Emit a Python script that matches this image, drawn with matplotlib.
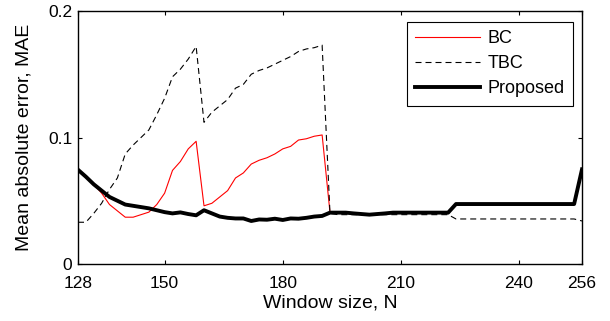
import matplotlib
matplotlib.use("Agg")
import matplotlib.pyplot as plt
import numpy as np

plt.rcParams['font.family'] = ['Liberation Sans', 'DejaVu Sans']

N = list(range(128, 258, 2))

proposed = [0.0745, 0.069, 0.063, 0.058, 0.053, 0.050, 0.047, 0.046, 0.045, 0.044,
            0.0425, 0.041, 0.040, 0.0408, 0.0395, 0.0385, 0.0425, 0.040, 0.0375, 0.0365,
            0.036, 0.036, 0.034, 0.0352, 0.035, 0.0358, 0.0348, 0.036, 0.0358, 0.0365,
            0.0375, 0.038, 0.0406, 0.0406, 0.0406, 0.040, 0.0395, 0.039, 0.0395, 0.040,
            0.0406, 0.0406, 0.0406, 0.0406, 0.0406, 0.0406, 0.0406, 0.0406,
            0.0474, 0.0474, 0.0474, 0.0474, 0.0474, 0.0474, 0.0474, 0.0474,
            0.0474, 0.0474, 0.0474, 0.0474, 0.0474, 0.0474, 0.0474, 0.0474, 0.0748]

tbc = [0.033, 0.033, 0.040, 0.048, 0.059, 0.068, 0.087, 0.094, 0.100, 0.106,
       0.118, 0.131, 0.148, 0.154, 0.162, 0.172, 0.112, 0.120, 0.125, 0.130,
       0.139, 0.142, 0.150, 0.153, 0.155, 0.158, 0.161, 0.164, 0.168, 0.170,
       0.171, 0.173, 0.040, 0.039, 0.039, 0.039, 0.039, 0.039, 0.039, 0.039,
       0.039, 0.039, 0.039, 0.039, 0.039, 0.039, 0.039, 0.039,
       0.0356, 0.0356, 0.0356, 0.0356, 0.0356, 0.0356, 0.0356, 0.0356,
       0.0356, 0.0356, 0.0356, 0.0356, 0.0356, 0.0356, 0.0356, 0.0356, 0.034]

bc = [0.0745, 0.069, 0.063, 0.056, 0.047, 0.042, 0.037, 0.037, 0.039, 0.041,
      0.047, 0.056, 0.074, 0.081, 0.091, 0.097, 0.046, 0.048, 0.053, 0.058,
      0.068, 0.072, 0.079, 0.082, 0.084, 0.087, 0.091, 0.093, 0.098, 0.099,
      0.101, 0.102] + proposed[32:]

xticks = [128, 150, 180, 210, 240, 256]
yticks = [0, 0.1, 0.2]
ytick_labels = ['0', '0.1', '0.2']

fig = plt.figure(figsize=(6.1, 3.21), dpi=100)
ax = fig.add_axes([78/610, (321-264)/321, (582-78)/610, (264-11)/321])

ax.plot(N, bc, color='#ff0000', lw=0.8, label='BC')
l2, = ax.plot(N, tbc, color='black', lw=0.8, label='TBC')
l2.set_dashes((5.4, 3.6))
ax.plot(N, proposed, color='black', lw=2.8, label='Proposed', solid_joinstyle='round')

ax.set_xlim(128, 256)
ax.set_ylim(0, 0.2)
ax.set_xticks(xticks)
ax.set_xticklabels([str(t) for t in xticks])
ax.set_yticks(yticks)
ax.set_yticklabels(ytick_labels)
ax.tick_params(direction='in', top=True, right=True, length=3, width=0.8,
               labelsize=12.5)
ax.tick_params(axis='x', pad=8.5)
ax.tick_params(axis='y', pad=4)
for s in ax.spines.values():
    s.set_linewidth(1.0)

ax.set_xlabel('Window size, N', fontsize=14, labelpad=3)
ax.set_ylabel('Mean absolute error, MAE', fontsize=14, labelpad=11)

leg = ax.legend(loc='upper right', bbox_to_anchor=(573/610, (321-22)/321),
                bbox_transform=fig.transFigure, borderaxespad=0,
                fancybox=False, framealpha=1, edgecolor='black',
                fontsize=13, handlelength=3.6, handletextpad=0.45,
                labelspacing=0.45, borderpad=0.45)
leg.get_frame().set_linewidth(0.8)

fig.savefig('out.png', dpi=100)
